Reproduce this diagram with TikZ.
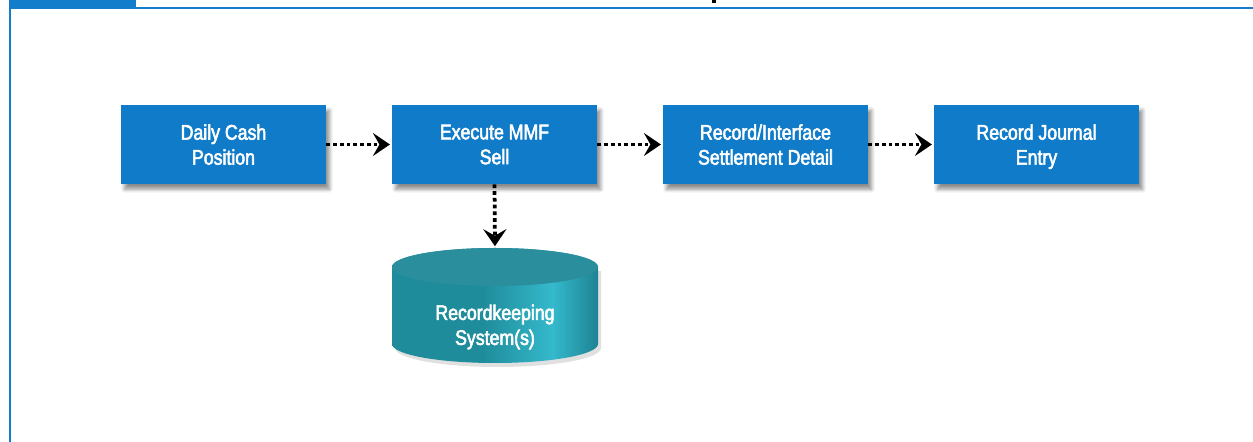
\documentclass[tikz,border=0pt]{standalone}
\usepackage{fontspec}
\setmainfont{Liberation Sans}[FakeStretch=0.84, FakeBold=2.6]
\usepackage{tikz}
\usetikzlibrary{arrows.meta, positioning, shadows.blur}
\definecolor{cBlue}{HTML}{0F7BC9}
\definecolor{cFrame}{HTML}{127DCB}
\definecolor{cTealTop}{HTML}{2A8E9C}
\definecolor{cTealA}{HTML}{1F8C9B}
\definecolor{cTealL}{HTML}{35B9CC}
\definecolor{cTealD}{HTML}{1D8393}
\pgfdeclarehorizontalshading{cylbody}{100bp}{color(0bp)=(cTealA); color(25bp)=(cTealA); color(47bp)=(cTealA); color(64bp)=(cTealL); color(75bp)=(cTealD); color(100bp)=(cTealD)}

\begin{document}
\begin{tikzpicture}[
    x=0.02cm, y=0.02cm,
    flow/.style={-{Stealth[length=0.34cm, width=0.46cm, inset=0.13cm]}, line width=0.075cm,
      dash pattern=on 0.075cm off 0.06cm, shorten >=1pt},
    stepbox/.style={fill=cBlue, text=white, align=center, minimum width=4.1cm,
      minimum height=1.58cm, inner sep=0pt, text depth=0pt,
      font=\fontsize{12}{14.2}\selectfont,
      blur shadow={shadow xshift=2pt, shadow yshift=-3pt, shadow blur steps=6, shadow opacity=45}},
    dbtext/.style={text=white, align=center, font=\fontsize{12}{14.2}\selectfont},
]
\useasboundingbox (0,0) rectangle (1253,442);

% ---------- Frame ----------
\draw[cFrame, line width=0.05cm] (10,0) -- (10,434) -- (1253,434);
\fill[cFrame] (9,434) rectangle (136,442);
\fill[black] (712,439) rectangle (716,442);

% ---------- Geometry ----------
\def\dx{271}
\def\y{297.5}

% ---------- Process boxes ----------
\node[stepbox] (cash)   at (223.5+0*\dx,\y) {Daily Cash\\Position};
\node[stepbox] (exec)   at (223.5+1*\dx,\y) {Execute MMF\\Sell};
\node[stepbox] (settle) at (223.5+2*\dx,\y) {Record/Interface\\Settlement Detail};
\node[stepbox] (journal) at (223.5+3*\dx,\y) {Record Journal\\Entry};

% ---------- Recordkeeping cylinder ----------
\def\cx{495}
\def\rx{103}
\def\ry{19}
\def\ttop{175}
\def\tbot{98}
\fill[black, opacity=0.12] (\cx-\rx+3,\ttop-4) -- (\cx-\rx+3,\tbot-4)
  arc[start angle=180, end angle=360, x radius=\rx, y radius=\ry] -- (\cx+\rx+3,\ttop-4) -- cycle;
\shade[shading=cylbody] (\cx-\rx,\ttop) -- (\cx-\rx,\tbot)
  arc[start angle=180, end angle=360, x radius=\rx, y radius=\ry] -- (\cx+\rx,\ttop)
  arc[start angle=0, end angle=180, x radius=\rx, y radius=\ry] -- cycle;
\fill[cTealTop] (\cx,\ttop) ellipse[x radius=\rx, y radius=\ry];
\coordinate (rksTop) at (\cx,\ttop+\ry);
\node[dbtext] (rks) at (\cx,115) {Recordkeeping\\System(s)};

% ---------- Arrows ----------
\draw[flow] (cash.east) -- (exec.west);
\draw[flow] (exec.east) -- (settle.west);
\draw[flow] (settle.east) -- (journal.west);
\draw[flow] (exec.south) -- (rksTop);

\end{tikzpicture}
\end{document}
